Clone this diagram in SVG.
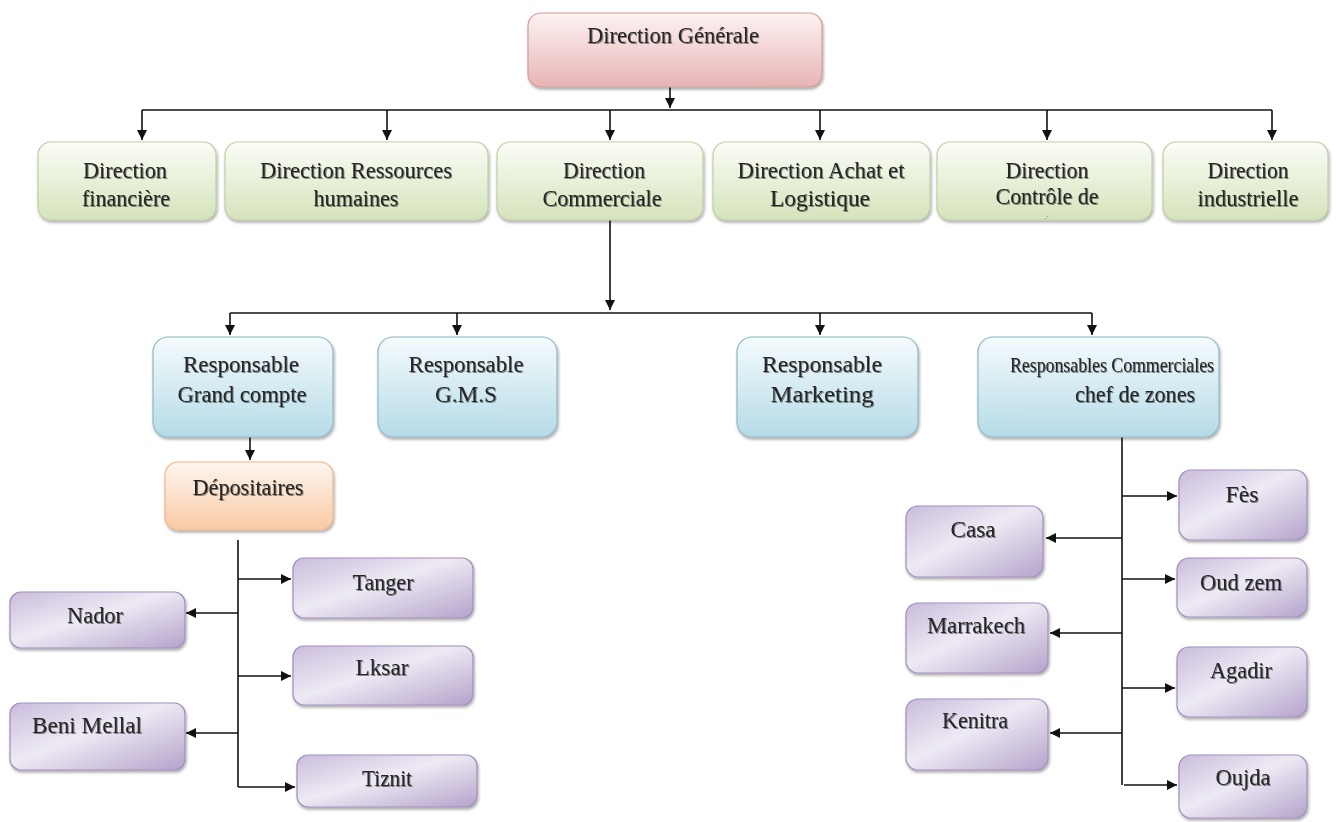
<svg xmlns="http://www.w3.org/2000/svg" width="1336" height="822" viewBox="0 0 1336 822">
<defs>
<linearGradient id="gPink" x1="0" y1="0" x2="0" y2="1"><stop offset="0" stop-color="#fdf3f3"/><stop offset="1" stop-color="#e8b4b4"/></linearGradient>
<linearGradient id="gGreen" x1="0" y1="0" x2="0" y2="1"><stop offset="0" stop-color="#fbfdf7"/><stop offset="1" stop-color="#d5e3bb"/></linearGradient>
<linearGradient id="gBlue" x1="0" y1="0" x2="0" y2="1"><stop offset="0" stop-color="#f5fbfd"/><stop offset="1" stop-color="#b5dbe7"/></linearGradient>
<linearGradient id="gOrange" x1="0" y1="0" x2="0" y2="1"><stop offset="0" stop-color="#fef6ef"/><stop offset="1" stop-color="#f9c9a4"/></linearGradient>
<linearGradient id="gPurple" x1="0" y1="0" x2="1" y2="1"><stop offset="0" stop-color="#c9bcdc"/><stop offset="0.45" stop-color="#eeeaf4"/><stop offset="1" stop-color="#b4a3cb"/></linearGradient>
<filter id="sh" x="-10%" y="-10%" width="125%" height="130%"><feGaussianBlur in="SourceAlpha" stdDeviation="1.5"/><feOffset dx="1" dy="2"/><feComponentTransfer><feFuncA type="linear" slope="0.35"/></feComponentTransfer><feMerge><feMergeNode/><feMergeNode in="SourceGraphic"/></feMerge></filter>
<filter id="ts" x="-5%" y="-20%" width="110%" height="140%"><feGaussianBlur in="SourceAlpha" stdDeviation="0.7"/><feOffset dx="0.8" dy="1"/><feComponentTransfer><feFuncA type="linear" slope="0.45"/></feComponentTransfer><feMerge><feMergeNode/><feMergeNode in="SourceGraphic"/></feMerge></filter>
<marker id="ah" viewBox="0 0 10 10" refX="10" refY="5" markerWidth="10" markerHeight="10" markerUnits="userSpaceOnUse" orient="auto"><path d="M0,0 L10,5 L0,10 z" fill="#111"/></marker>
</defs>
<style>
.pink{fill:url(#gPink);stroke:#d49a9a;stroke-width:1.2}
.green{fill:url(#gGreen);stroke:#bfcfa3;stroke-width:1.2}
.blue{fill:url(#gBlue);stroke:#8fb8c6;stroke-width:1.2}
.orange{fill:url(#gOrange);stroke:#f0b78c;stroke-width:1.2}
.purple{fill:url(#gPurple);stroke:#a18fbd;stroke-width:1.2}
text{font-family:"Liberation Serif","Times New Roman",serif;font-size:24px;fill:#262626;text-anchor:middle}
.c{stroke:#111;stroke-width:1.6;fill:none}
.a{stroke:#111;stroke-width:1.6;fill:none;marker-end:url(#ah)}
</style>
<rect width="1336" height="822" fill="#ffffff"/>

<g id="connectors">
<line class="a" x1="670" y1="87" x2="670" y2="108"/>
<line class="c" x1="142" y1="110" x2="1272" y2="110"/>
<line class="a" x1="142" y1="110" x2="142" y2="140"/>
<line class="a" x1="387" y1="110" x2="387" y2="140"/>
<line class="a" x1="610" y1="110" x2="610" y2="140"/>
<line class="a" x1="820" y1="110" x2="820" y2="140"/>
<line class="a" x1="1047" y1="110" x2="1047" y2="140"/>
<line class="a" x1="1272" y1="110" x2="1272" y2="140"/>
<line class="a" x1="610" y1="220" x2="610" y2="310"/>
<line class="c" x1="230" y1="313" x2="1092" y2="313"/>
<line class="a" x1="230" y1="313" x2="230" y2="335"/>
<line class="a" x1="457" y1="313" x2="457" y2="335"/>
<line class="a" x1="820" y1="313" x2="820" y2="335"/>
<line class="a" x1="1092" y1="313" x2="1092" y2="335"/>
<line class="a" x1="250" y1="437" x2="250" y2="460"/>
<line class="c" x1="238" y1="540" x2="238" y2="787"/>
<line class="a" x1="238" y1="579" x2="291" y2="579"/>
<line class="a" x1="238" y1="613" x2="186" y2="613"/>
<line class="a" x1="238" y1="676" x2="291" y2="676"/>
<line class="a" x1="238" y1="733" x2="186" y2="733"/>
<line class="a" x1="238" y1="787" x2="295" y2="787"/>
<line class="c" x1="1122" y1="437" x2="1122" y2="785"/>
<line class="a" x1="1122" y1="496" x2="1177" y2="496"/>
<line class="a" x1="1122" y1="538" x2="1046" y2="538"/>
<line class="a" x1="1122" y1="579" x2="1175" y2="579"/>
<line class="a" x1="1122" y1="633" x2="1050" y2="633"/>
<line class="a" x1="1122" y1="688" x2="1175" y2="688"/>
<line class="a" x1="1122" y1="733" x2="1050" y2="733"/>
<line class="a" x1="1124" y1="785" x2="1177" y2="785"/>
</g>

<g id="n-dg" filter="url(#sh)"><rect class="pink" x="528" y="13" width="294" height="74" rx="13"/><text x="673" y="43" textLength="172" lengthAdjust="spacingAndGlyphs" filter="url(#ts)">Direction Générale</text></g>

<g id="n-fin" filter="url(#sh)"><rect class="green" x="38" y="142" width="178" height="78" rx="13"/><text x="125" y="178" textLength="84" lengthAdjust="spacingAndGlyphs" filter="url(#ts)">Direction</text><text x="126" y="206" textLength="88" lengthAdjust="spacingAndGlyphs" filter="url(#ts)">financière</text></g>
<g id="n-rh" filter="url(#sh)"><rect class="green" x="225" y="142" width="263" height="78" rx="13"/><text x="356" y="178" textLength="192" lengthAdjust="spacingAndGlyphs" filter="url(#ts)">Direction Ressources</text><text x="356" y="206" textLength="85" lengthAdjust="spacingAndGlyphs" filter="url(#ts)">humaines</text></g>
<g id="n-com" filter="url(#sh)"><rect class="green" x="497" y="142" width="206" height="78" rx="13"/><text x="604" y="178" textLength="82" lengthAdjust="spacingAndGlyphs" filter="url(#ts)">Direction</text><text x="602" y="206" textLength="119" lengthAdjust="spacingAndGlyphs" filter="url(#ts)">Commerciale</text></g>
<g id="n-achat" filter="url(#sh)"><rect class="green" x="713" y="142" width="217" height="78" rx="13"/><text x="821" y="178" textLength="167" lengthAdjust="spacingAndGlyphs" filter="url(#ts)">Direction Achat et</text><text x="820" y="206" textLength="100" lengthAdjust="spacingAndGlyphs" filter="url(#ts)">Logistique</text></g>
<g id="n-ctrl" filter="url(#sh)"><rect class="green" x="937" y="142" width="215" height="78" rx="13"/><text x="1047" y="178" textLength="83" lengthAdjust="spacingAndGlyphs" filter="url(#ts)">Direction</text><text x="1047" y="204" textLength="103" lengthAdjust="spacingAndGlyphs" filter="url(#ts)">Contrôle de</text><text x="1047" y="219" style="font-size:6px">.·</text></g>
<g id="n-ind" filter="url(#sh)"><rect class="green" x="1163" y="142" width="165" height="78" rx="13"/><text x="1248" y="178" textLength="81" lengthAdjust="spacingAndGlyphs" filter="url(#ts)">Direction</text><text x="1248" y="206" textLength="101" lengthAdjust="spacingAndGlyphs" filter="url(#ts)">industrielle</text></g>

<g id="n-gc" filter="url(#sh)"><rect class="blue" x="153" y="337" width="180" height="100" rx="15"/><text x="241" y="372" textLength="116" lengthAdjust="spacingAndGlyphs" filter="url(#ts)">Responsable</text><text x="242" y="402" textLength="129" lengthAdjust="spacingAndGlyphs" filter="url(#ts)">Grand compte</text></g>
<g id="n-gms" filter="url(#sh)"><rect class="blue" x="378" y="337" width="179" height="100" rx="15"/><text x="466" y="372" textLength="115" lengthAdjust="spacingAndGlyphs" filter="url(#ts)">Responsable</text><text x="466" y="402" textLength="62" lengthAdjust="spacingAndGlyphs" filter="url(#ts)">G.M.S</text></g>
<g id="n-mkt" filter="url(#sh)"><rect class="blue" x="737" y="337" width="181" height="100" rx="15"/><text x="822" y="372" textLength="120" lengthAdjust="spacingAndGlyphs" filter="url(#ts)">Responsable</text><text x="822" y="402" textLength="103" lengthAdjust="spacingAndGlyphs" filter="url(#ts)">Marketing</text></g>
<g id="n-zones" filter="url(#sh)"><rect class="blue" x="978" y="337" width="241" height="100" rx="15"/><text x="1112" y="372" textLength="204" lengthAdjust="spacingAndGlyphs" style="font-size:21px" filter="url(#ts)">Responsables Commerciales</text><text x="1135" y="402" textLength="120" lengthAdjust="spacingAndGlyphs" filter="url(#ts)">chef de zones</text></g>

<g id="n-dep" filter="url(#sh)"><rect class="orange" x="165" y="462" width="168" height="68" rx="13"/><text x="248" y="495" textLength="111" lengthAdjust="spacingAndGlyphs" filter="url(#ts)">Dépositaires</text></g>

<g id="n-tanger" filter="url(#sh)"><rect class="purple" x="293" y="558" width="180" height="60" rx="11"/><text x="383" y="590" textLength="61" lengthAdjust="spacingAndGlyphs" filter="url(#ts)">Tanger</text></g>
<g id="n-nador" filter="url(#sh)"><rect class="purple" x="10" y="592" width="175" height="56" rx="11"/><text x="95" y="623" textLength="56" lengthAdjust="spacingAndGlyphs" filter="url(#ts)">Nador</text></g>
<g id="n-lksar" filter="url(#sh)"><rect class="purple" x="293" y="646" width="180" height="59" rx="11"/><text x="382" y="675" textLength="53" lengthAdjust="spacingAndGlyphs" filter="url(#ts)">Lksar</text></g>
<g id="n-beni" filter="url(#sh)"><rect class="purple" x="10" y="703" width="175" height="67" rx="11"/><text x="87" y="733" textLength="110" lengthAdjust="spacingAndGlyphs" filter="url(#ts)">Beni  Mellal</text></g>
<g id="n-tiznit" filter="url(#sh)"><rect class="purple" x="297" y="755" width="180" height="52" rx="11"/><text x="387" y="786" textLength="50" lengthAdjust="spacingAndGlyphs" filter="url(#ts)">Tiznit</text></g>

<g id="n-fes" filter="url(#sh)"><rect class="purple" x="1179" y="470" width="128" height="70" rx="12"/><text x="1242" y="502" textLength="33" lengthAdjust="spacingAndGlyphs" filter="url(#ts)">Fès</text></g>
<g id="n-casa" filter="url(#sh)"><rect class="purple" x="906" y="506" width="137" height="71" rx="12"/><text x="973" y="537" textLength="45" lengthAdjust="spacingAndGlyphs" filter="url(#ts)">Casa</text></g>
<g id="n-oudzem" filter="url(#sh)"><rect class="purple" x="1177" y="558" width="130" height="59" rx="12"/><text x="1241" y="590" textLength="82" lengthAdjust="spacingAndGlyphs" filter="url(#ts)">Oud zem</text></g>
<g id="n-marrakech" filter="url(#sh)"><rect class="purple" x="906" y="603" width="142" height="70" rx="12"/><text x="976" y="633" textLength="98" lengthAdjust="spacingAndGlyphs" filter="url(#ts)">Marrakech</text></g>
<g id="n-agadir" filter="url(#sh)"><rect class="purple" x="1177" y="647" width="130" height="70" rx="12"/><text x="1241" y="678" textLength="62" lengthAdjust="spacingAndGlyphs" filter="url(#ts)">Agadir</text></g>
<g id="n-kenitra" filter="url(#sh)"><rect class="purple" x="906" y="699" width="142" height="71" rx="12"/><text x="975" y="728" textLength="66" lengthAdjust="spacingAndGlyphs" filter="url(#ts)">Kenitra</text></g>
<g id="n-oujda" filter="url(#sh)"><rect class="purple" x="1179" y="755" width="128" height="63" rx="12"/><text x="1243" y="785" textLength="55" lengthAdjust="spacingAndGlyphs" filter="url(#ts)">Oujda</text></g>
</svg>
